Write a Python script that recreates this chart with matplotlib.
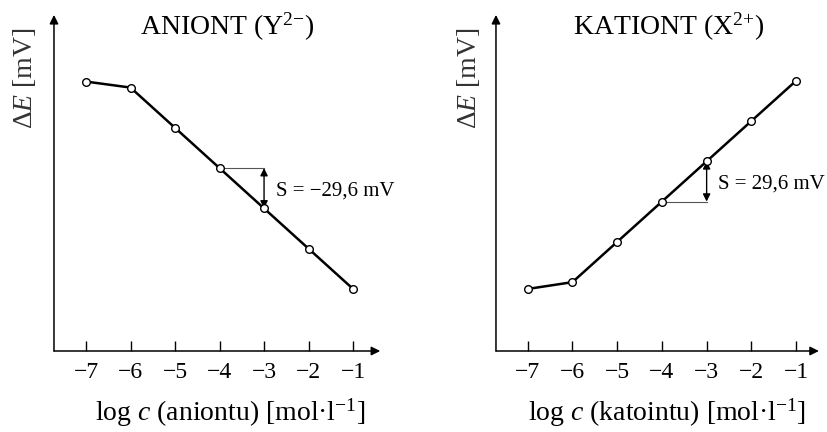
import matplotlib.pyplot as plt

plt.rcParams['font.family'] = ['Liberation Serif', 'DejaVu Serif']
plt.rcParams['mathtext.fontset'] = 'custom'
plt.rcParams['mathtext.rm'] = 'Liberation Serif'
plt.rcParams['mathtext.it'] = 'Liberation Serif:italic'

# data: log c vs potential change (mV, arbitrary offset)
log_c = [-7, -6, -5, -4, -3, -2, -1]
dE_anion = [198.0, 193.6, 164.0, 134.4, 104.8, 75.2, 45.6]
dE_cation = [45.6, 50.6, 80.2, 109.8, 139.4, 169.0, 198.6]
tick_labels = ['\u22127', '\u22126', '\u22125', '\u22124', '\u22123', '\u22122', '\u22121']

panels = [
    dict(rect=[0.0652, 0.1875, 0.394, 0.778], xlim=(-7.72, -0.39), y=dE_anion,
         title='ANIONT (Y$^{2{\u2212}}$)', xlabel='log $c$ (aniontu) [mol\u00b7l$^{\u22121}$]',
         slope='S = \u221229,6 mV', title_x=227, xlabel_x=230, ylabel_x=25),
    dict(rect=[0.599, 0.1875, 0.390, 0.778], xlim=(-7.71, -0.49), y=dE_cation,
         title='KATIONT (X$^{2{+}}$)', xlabel='log $c$ (katointu) [mol\u00b7l$^{\u22121}$]',
         slope='S = 29,6 mV', title_x=669, xlabel_x=667, ylabel_x=469),
]

fig = plt.figure(figsize=(8.28, 4.32), dpi=100)

for p in panels:
    ax = fig.add_axes(p['rect'])
    ax.set_xlim(*p['xlim'])
    ax.set_ylim(0, 247)
    for s in ax.spines.values():
        s.set_visible(False)

    # axes with arrows
    ax.annotate('', xy=(1, 0), xytext=(0, 0), xycoords='axes fraction',
                arrowprops=dict(arrowstyle='-|>', color='black', lw=1.1,
                                mutation_scale=13, shrinkA=0, shrinkB=0))
    ax.annotate('', xy=(0, 1), xytext=(0, 0), xycoords='axes fraction',
                arrowprops=dict(arrowstyle='-|>', color='black', lw=1.1,
                                mutation_scale=13, shrinkA=0, shrinkB=0))

    ax.set_xticks(log_c)
    ax.set_xticklabels(tick_labels, fontsize=17)
    ax.set_yticks([])
    ax.tick_params(axis='x', direction='in', length=7, width=1, pad=8)

    y = p['y']
    # slope triangle between -4 and -3
    y4, y3 = y[3], y[4]
    ax.plot([-4, -3], [y4, y4], color='#555555', lw=0.8, zorder=2)
    ax.annotate('', xy=(-3, y3), xytext=(-3, y4),
                arrowprops=dict(arrowstyle='<|-|>', color='black', lw=1,
                                mutation_scale=11, shrinkA=0, shrinkB=0))
    ax.text(-2.74, (y3 + y4) / 2 - 2, p['slope'], fontsize=15, va='center', ha='left')

    ax.plot(log_c, y, color='black', lw=1.8, marker='o', ms=5.5,
            mfc='white', mec='black', mew=1.0, zorder=3)

    fig.text(p['title_x'] / 828, 1 - 27 / 432, p['title'], fontsize=20,
             ha='center', va='center')
    fig.text(p['xlabel_x'] / 828, 1 - 413 / 432, p['xlabel'], fontsize=20,
             ha='center', va='center')
    fig.text(p['ylabel_x'] / 828, 1 - 78 / 432, '$\\mathit{\u0394E}$ [mV]',
             fontsize=20, rotation=90, ha='center', va='center', color='#333333')

fig.savefig('out.png', dpi=100)
